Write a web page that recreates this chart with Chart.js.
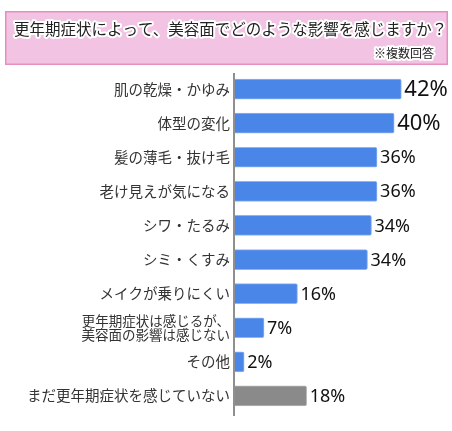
<!DOCTYPE html>
<html>
<head>
<meta charset="utf-8">
<script src="https://cdn.jsdelivr.net/npm/chart.js@4.4.1/dist/chart.umd.min.js"></script>
<style>
html,body{margin:0;padding:0;background:#fff;}
#wrap{width:452px;height:431px;}
</style>
</head>
<body>
<div id="wrap"><canvas id="c" width="452" height="431"></canvas></div>
<script>
const titleText = "更年期症状によって、美容面でどのような影響を感じますか？";
const subtitleText = "※複数回答";
const categories = [
  "肌の乾燥・かゆみ",
  "体型の変化",
  "髪の薄毛・抜け毛",
  "老け見えが気になる",
  "シワ・たるみ",
  "シミ・くすみ",
  "メイクが乗りにくい",
  ["更年期症状は感じるが、", "美容面の影響は感じない"],
  "その他",
  "まだ更年期症状を感じていない"
];
const values = [41.8, 40.0, 35.7, 35.7, 34.3, 33.3, 15.7, 7.3, 2.3, 18.0];
const valueLabels = ["42%", "40%", "36%", "36%", "34%", "34%", "16%", "7%", "2%", "18%"];
const groups = ["impact","impact","impact","impact","impact","impact","impact","impact","impact","none"];

const JP = '"Noto Sans CJK JP", "Noto Sans", sans-serif';
const NUM = '"Noto Sans", "DejaVu Sans", sans-serif';

const fillFor = g => g === "none" ? "#8a8a8a" : "#4a86e8";
const edgeFor = g => g === "none" ? "#b5b5b5" : "#8fb4f2";

const decor = {
  id: "decor",
  beforeDraw(chart) {
    const ctx = chart.ctx;
    ctx.save();
    ctx.fillStyle = "#ffffff";
    ctx.fillRect(0, 0, chart.width, chart.height);
    // title box
    ctx.fillStyle = "#f2c3e3";
    ctx.fillRect(5, 11, 443, 54);
    ctx.strokeStyle = "#e68fbf";
    ctx.lineWidth = 1.5;
    ctx.strokeRect(5.75, 11.75, 441.5, 52.5);
    // title
    ctx.font = "15.5px " + JP;
    ctx.textBaseline = "middle";
    ctx.textAlign = "left";
    ctx.lineJoin = "round";
    ctx.strokeStyle = "#ffffff";
    ctx.lineWidth = 4;
    ctx.strokeText(titleText, 14, 29);
    ctx.fillStyle = "#222222";
    ctx.fillText(titleText, 14, 29);
    ctx.font = "12px " + JP;
    ctx.textAlign = "right";
    ctx.strokeText(subtitleText, 434, 53);
    ctx.fillText(subtitleText, 434, 53);
    ctx.restore();
  },
  afterDatasetsDraw(chart) {
    const ctx = chart.ctx;
    ctx.save();
    // axis line
    ctx.strokeStyle = "#6a6a6a";
    ctx.lineWidth = 1.5;
    ctx.beginPath();
    ctx.moveTo(234, 73);
    ctx.lineTo(234, 416);
    ctx.stroke();
    // value labels
    const meta = chart.getDatasetMeta(0);
    ctx.textBaseline = "middle";
    ctx.textAlign = "left";
    ctx.fillStyle = "#111111";
    meta.data.forEach((el, i) => {
      const big = i < 2;
      ctx.font = (big ? "22px " : "18px ") + NUM;
      ctx.fillText(valueLabels[i], el.x + 3, el.y + 1);
    });
    ctx.restore();
  }
};

new Chart(document.getElementById("c"), {
  type: "bar",
  data: {
    labels: categories,
    datasets: [{
      data: values,
      backgroundColor: groups.map(fillFor),
      borderColor: groups.map(edgeFor),
      borderWidth: 1,
      borderRadius: 2,
      borderSkipped: "start",
      barThickness: 20
    }]
  },
  options: {
    indexAxis: "y",
    responsive: false,
    animation: false,
    devicePixelRatio: 1,
    layout: { padding: { top: 72, bottom: 18, left: 0, right: 18 } },
    plugins: { legend: { display: false }, tooltip: { enabled: false }, title: { display: false } },
    scales: {
      x: { display: false, min: 0, max: 50 },
      y: {
        afterFit(s) { s.width = 235; },
        grid: { display: false, drawTicks: false },
        border: { display: false },
        ticks: {
          padding: 5,
          color: "#333333",
          autoSkip: false,
          font: ctx => ctx.index === 7
            ? { family: JP, size: 13.5, lineHeight: 1.0 }
            : { family: JP, size: 14.5 }
        }
      }
    }
  },
  plugins: [decor]
});
</script>
</body>
</html>
